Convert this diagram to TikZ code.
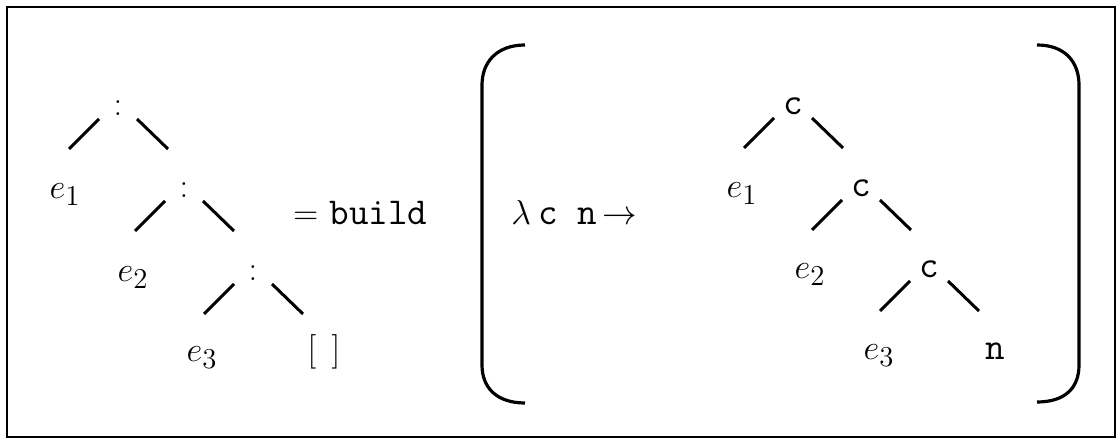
\documentclass[tikz,border=0pt]{standalone}
\usepackage{amsmath}
\begin{document}
\begin{tikzpicture}[x=0.5pt,y=-0.5pt,
  lbl/.style={inner sep=0pt,anchor=base,font=\fontsize{19}{23}\selectfont},
  lblw/.style={inner sep=0pt,anchor=base west,font=\fontsize{19}{23}\selectfont},
  branch/.style={line width=1.5pt},
  paren/.style={line width=1.6pt},
  frame/.style={line width=1.1pt}]
\useasboundingbox (0,0) rectangle (1120,442);
\draw[frame] (7,7) rectangle (1115,437);

% left tree
\node[lbl] (k1) at (118,116) {$:$};
\node[lbl] (k2) at (184,198) {$:$};
\node[lbl] (k3) at (253,281) {$:$};
\node[lbl] (a1) at (65,199) {$e_1$};
\node[lbl] (a2) at (133,282) {$e_2$};
\node[lbl] (a3) at (202,362) {$e_3$};
\node[lbl] (nil) at (324,361) {$[\;\,]$};
\foreach \p in {k1,k2,k3}{
  \draw[branch] ([shift={(-19,3)}]\p.base) -- ([shift={(-49,33)}]\p.base);
  \draw[branch] ([shift={(19,3)}]\p.base) -- ([shift={(50,33)}]\p.base);
}

% middle text
\node[lblw] (bld) at (293,225) {$=$\hspace{0.3em}\texttt{build}};
\node[lblw] (lam) at (511,225) {$\lambda$\hspace{0.2em}\texttt{c n}\hspace{0.12em}$\rightarrow$};

% parentheses
\draw[paren] (525,45) .. controls (497,45) and (482,62) .. (482,85) -- (482,365)
  .. controls (482,388) and (497,403) .. (525,403);
\draw[paren] (1037,45) .. controls (1065,45) and (1079,62) .. (1079,85) -- (1079,365)
  .. controls (1079,388) and (1065,402) .. (1037,402);

% right tree
\node[lbl] (c1) at (793,115) {\texttt{c}};
\node[lbl] (c2) at (861,197) {\texttt{c}};
\node[lbl] (c3) at (929,278) {\texttt{c}};
\node[lbl] (b1) at (742,198) {$e_1$};
\node[lbl] (b2) at (810,279) {$e_2$};
\node[lbl] (b3) at (879,360) {$e_3$};
\node[lbl] (nn) at (995,360) {\texttt{n}};
\foreach \p in {c1,c2,c3}{
  \draw[branch] ([shift={(-19,3)}]\p.base) -- ([shift={(-49,33)}]\p.base);
  \draw[branch] ([shift={(19,3)}]\p.base) -- ([shift={(50,33)}]\p.base);
}
\end{tikzpicture}
\end{document}
